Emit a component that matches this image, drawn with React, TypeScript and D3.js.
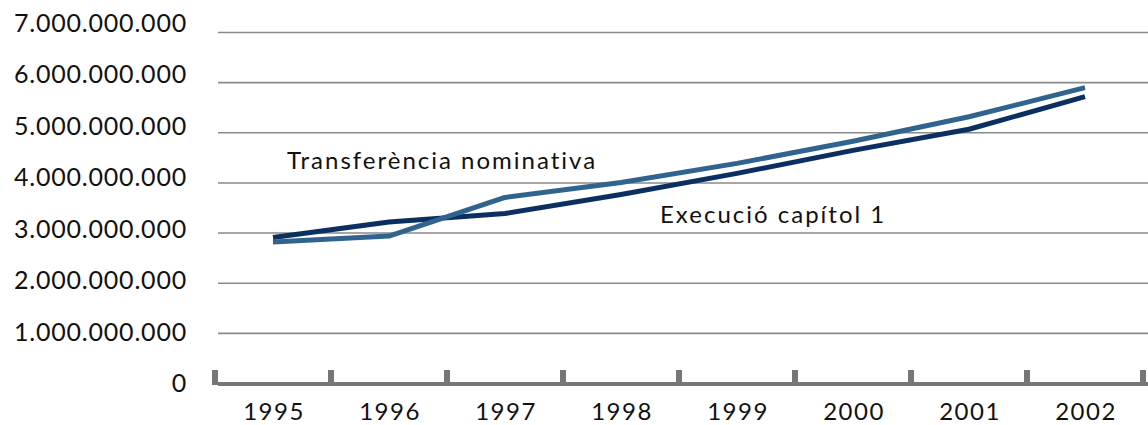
import React from "react";
import * as d3 from "d3";

const years: string[] = ["1995", "1996", "1997", "1998", "1999", "2000", "2001", "2002"];
const execucio: number[] = [2.91e9, 3.22e9, 3.39e9, 3.77e9, 4.19e9, 4.65e9, 5.07e9, 5.72e9];
const transferencia: number[] = [2.82e9, 2.94e9, 3.71e9, 4.01e9, 4.39e9, 4.83e9, 5.32e9, 5.9e9];
const yTicks: number[] = [0, 1e9, 2e9, 3e9, 4e9, 5e9, 6e9, 7e9];
const seriesNames: string[] = ["Transferència nominativa", "Execució capítol 1"];

const W = 1148;
const H = 425;
const FONT = "Lato, 'Open Sans', sans-serif";

function fmt(v: number): string {
  if (v === 0) return "0";
  return d3.format(",")(v).replace(/,/g, ".");
}

export default function App() {
  const x = d3.scaleBand<string>().domain(years).range([215, 1143]).padding(0);
  const y = d3.scaleLinear().domain([0, 7e9]).range([383.5, 32.5]);
  const yLab = d3.scaleLinear().domain([0, 7e9]).range([382, 22]);
  const cx = (i: number) => (x(years[i]) as number) + x.bandwidth() / 2;

  const line = d3
    .line<number>()
    .x((_, i) => cx(i))
    .y((d) => y(d));

  const boundaries = d3.range(years.length + 1).map((i) => 215 + i * x.bandwidth());

  return (
    <svg
      width={W}
      height={H}
      viewBox={`0 0 ${W} ${H}`}
      style={{ position: "absolute", left: 0, top: 0, background: "#fff" }}
    >
      {/* gridlines */}
      {yTicks.slice(1).map((t) => (
        <line key={t} x1={218} x2={W} y1={y(t)} y2={y(t)} stroke="#8a8a8a" strokeWidth={1.6} />
      ))}
      {/* y labels */}
      {yTicks.map((t) => (
        <text
          key={"l" + t}
          x={187}
          y={yLab(t)}
          textAnchor="end"
          dominantBaseline="central"
          fontFamily={FONT}
          fontSize={25}
          letterSpacing={0.8}
          fill="#111"
        >
          {fmt(t)}
        </text>
      ))}
      {/* x axis */}
      <line x1={218} x2={W} y1={384} y2={384} stroke="#767676" strokeWidth={4} />
      {boundaries.map((b, i) => (
        <rect key={"t" + i} x={b - 3} y={370} width={6} height={15} fill="#767676" />
      ))}
      {years.map((yr, i) => (
        <text
          key={yr}
          x={cx(i) + 1}
          y={420}
          textAnchor="middle"
          fontFamily={FONT}
          fontSize={24}
          letterSpacing={1.5}
          fill="#111"
        >
          {yr}
        </text>
      ))}
      {/* series */}
      <path d={line(execucio) ?? ""} fill="none" stroke="#0b2f60" strokeWidth={5} strokeLinejoin="round" />
      <path d={line(transferencia) ?? ""} fill="none" stroke="#31638f" strokeWidth={5} strokeLinejoin="round" />
      {/* annotations */}
      <text x={287} y={169} fontFamily={FONT} fontSize={24} letterSpacing={2} fill="#111">
        {seriesNames[0]}
      </text>
      <text x={660} y={223} fontFamily={FONT} fontSize={24} letterSpacing={2} fill="#111">
        {seriesNames[1]}
      </text>
    </svg>
  );
}
